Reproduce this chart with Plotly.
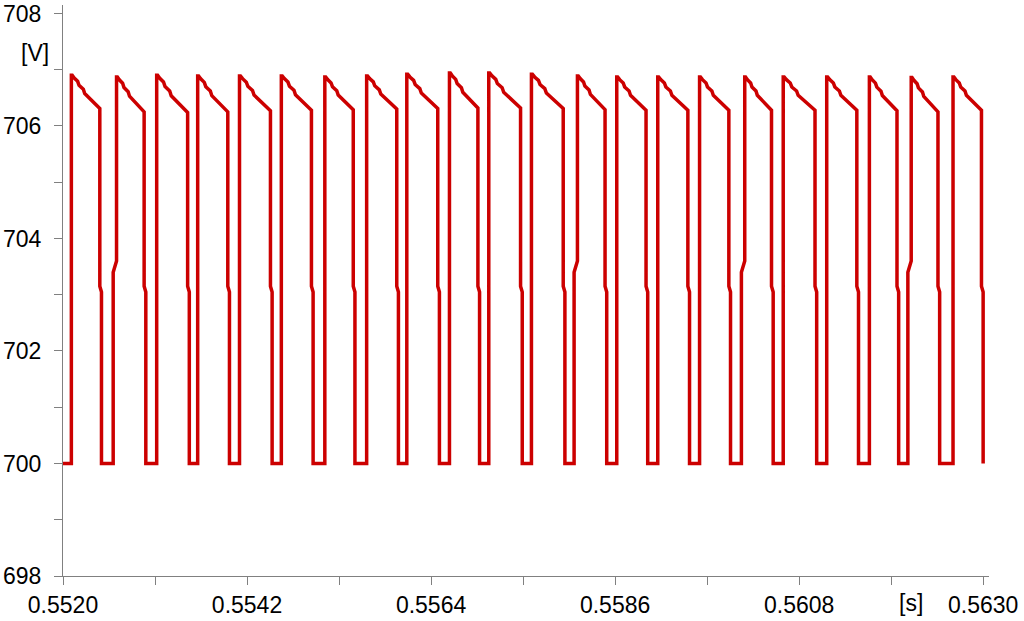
import plotly.graph_objects as go

# pulse edges [s]
RISE_T = [0.55210, 0.55260, 0.55312, 0.55361, 0.55411, 0.55461, 0.55513, 0.55563,
          0.55611, 0.55662, 0.55709, 0.55760, 0.55811, 0.55862, 0.55911, 0.55961,
          0.56011, 0.56061, 0.56113, 0.56164, 0.56210, 0.56264]
FALL_T = [0.55246, 0.55299, 0.55351, 0.55399, 0.55450, 0.55499, 0.55549, 0.55601,
          0.55650, 0.55698, 0.55749, 0.55800, 0.55850, 0.55899, 0.55949, 0.55998,
          0.56049, 0.56101, 0.56151, 0.56199, 0.56248, 0.56300]
# top of each pulse and level at the end of the droop [V]
PEAK_V = [706.90, 706.87, 706.90, 706.89, 706.89, 706.89, 706.87, 706.89,
          706.92, 706.94, 706.94, 706.92, 706.89, 706.87, 706.87, 706.87,
          706.87, 706.87, 706.87, 706.87, 706.86, 706.87]
END_V = [706.31, 706.25, 706.24, 706.25, 706.27, 706.28, 706.29, 706.30,
         706.31, 706.32, 706.32, 706.31, 706.29, 706.28, 706.28, 706.28,
         706.28, 706.28, 706.28, 706.27, 706.25, 706.28]
# pulses whose rising edge has the small step
KINK_PULSES = [1, 12, 16, 20]
# shape of the droop (fraction of pulse time, fraction of drop)
DROOP_T = [0.0, 0.03, 0.10, 0.22, 0.27, 0.35, 0.42, 0.47, 0.55, 0.65, 0.75, 0.88, 1.0]
DROOP_V = [0.0, 0.0, 0.08, 0.18, 0.30, 0.36, 0.42, 0.55, 0.62, 0.70, 0.80, 0.92, 1.0]

LOW_V = 700.0
FALL_STEP = [703.15, 703.05]
RISE_STEP = [703.40, 703.60]

X_TICKS = [0.5520, 0.5531, 0.5542, 0.5553, 0.5564, 0.5575, 0.5586, 0.5597, 0.5608, 0.5619, 0.5630]
X_LABELS = ["0.5520", "", "0.5542", "", "0.5564", "", "0.5586", "", "0.5608", "", "0.5630"]
Y_TICKS = [698, 699, 700, 701, 702, 703, 704, 705, 706, 707, 708]
Y_LABELS = ["698", "", "700", "", "702", "", "704", "", "706", "", "708"]

xs = [0.5520]
ys = [LOW_V]
for i in range(len(RISE_T)):
    r, f = RISE_T[i], FALL_T[i]
    xs.append(r)
    ys.append(LOW_V)
    if i in KINK_PULSES:
        xs += [r, r + 0.00004]
        ys += RISE_STEP
        r = r + 0.00004
    f_top = f - 0.00002
    for ft, fv in zip(DROOP_T, DROOP_V):
        xs.append(r + ft * (f_top - r))
        ys.append(PEAK_V[i] - fv * (PEAK_V[i] - END_V[i]))
    xs += [f_top, f, f]
    ys += [FALL_STEP[0], FALL_STEP[1], LOW_V]

fig = go.Figure()
fig.add_trace(go.Scatter(x=xs, y=ys, mode='lines',
                         line=dict(color='rgb(204,0,0)', width=3.5),
                         showlegend=False, hoverinfo='skip'))

axis_style = dict(showline=True, linecolor='#808080', linewidth=1,
                  ticks='outside', ticklen=8, tickcolor='#808080', tickwidth=1,
                  showgrid=False, zeroline=False, tickmode='array', automargin=False)

fig.update_xaxes(range=[0.5520, 0.56307], tickvals=X_TICKS, ticktext=X_LABELS, **axis_style)
fig.update_yaxes(range=[698, 708.15], tickvals=Y_TICKS, ticktext=Y_LABELS,
                 ticklabelstandoff=8, **axis_style)

fig.add_annotation(text='[s]', x=0.56214, xref='x', y=0, yref='paper',
                   yanchor='top', yshift=-12, showarrow=False,
                   font=dict(size=23, color='black'))
fig.add_annotation(text='[V]', x=0, xref='paper', y=707.30, yref='y',
                   xanchor='right', xshift=-12, showarrow=False,
                   font=dict(size=23, color='black'))

fig.update_layout(
    width=1024, height=621,
    margin=dict(l=63, r=35, t=5, b=45, autoexpand=False),
    plot_bgcolor='white', paper_bgcolor='white',
    font=dict(family='Arial, Liberation Sans, sans-serif', size=23, color='black'),
)

# drop the browser's default body margin so the figure sits at the page corner
fig.write_html("out.html", config={'displayModeBar': False},
               post_script="document.body.style.margin='0';")
